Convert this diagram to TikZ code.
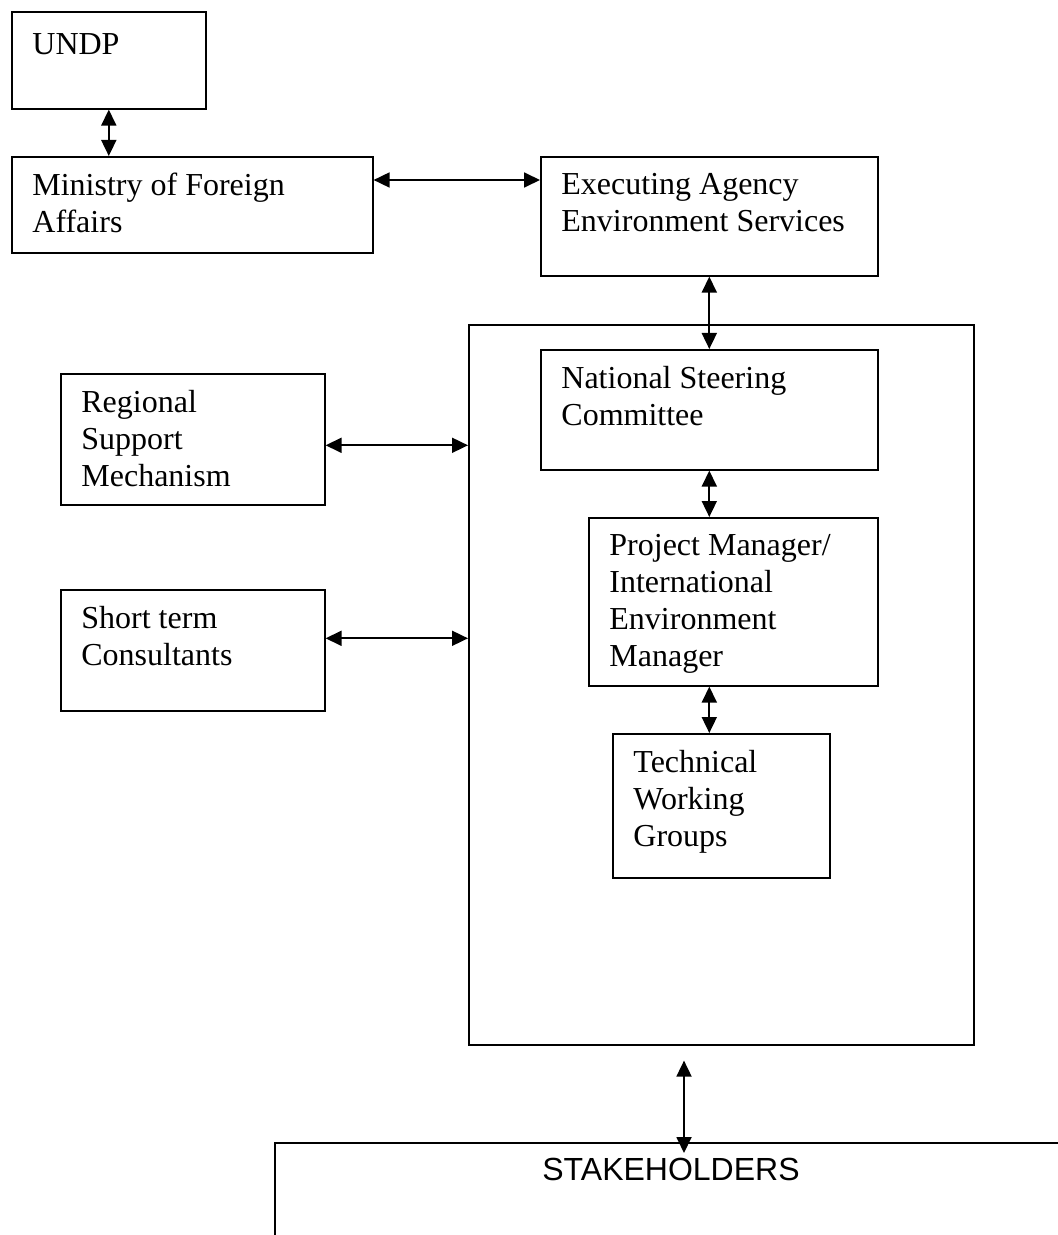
\documentclass[tikz,border=0pt]{standalone}
\usepackage{fontspec}
\setmainfont{Liberation Serif}
\setsansfont{Liberation Sans}
\usetikzlibrary{arrows.meta}

\begin{document}
\begin{tikzpicture}[x=0.5pt,y=-0.5pt,
        box/.style={draw=black,line width=0.8pt,anchor=north west,inner sep=0pt},
        txt/.style={anchor=north west,align=left,inner sep=0pt,font=\fontsize{16}{18.5}\selectfont,execute at begin node=\strut},
        link/.style={{Triangle[length=8pt,width=7.5pt]}-{Triangle[length=8pt,width=7.5pt]},line width=0.9pt}]
        \useasboundingbox (0,0) rectangle (1058,1235);
        % boxes
        \node[box,minimum width=97pt,minimum height=48.5pt] (undp) at (11,11) {};
        \node[box,minimum width=180.5pt,minimum height=48pt] (mfa) at (11,156) {};
        \node[box,minimum width=168.5pt,minimum height=59.5pt] (ea) at (540,156) {};
        \node[box,minimum width=252.5pt,minimum height=360pt] (outer) at (468,324) {};
        \node[box,minimum width=168.5pt,minimum height=60pt] (nsc) at (540,349) {};
        \node[box,minimum width=144.5pt,minimum height=84pt] (pm) at (588,517) {};
        \node[box,minimum width=108.5pt,minimum height=72pt] (twg) at (612,733) {};
        \node[box,minimum width=132pt,minimum height=65.5pt] (rsm) at (60,373) {};
        \node[box,minimum width=132pt,minimum height=60.5pt] (stc) at (60,589) {};
        % texts
        \node[txt] (undptxt) at ([shift={(21,17)}]undp.north west) {UNDP};
        \node[txt] (mfatxt) at ([shift={(21,17)}]mfa.north west) {Ministry of Foreign\\Affairs};
        \node[txt] (eatxt) at ([shift={(21,17)}]ea.north west) {Executing Agency\\Environment Services};
        \node[txt] (nsctxt) at ([shift={(21,17)}]nsc.north west) {National Steering\\Committee};
        \node[txt] (pmtxt) at ([shift={(21,17)}]pm.north west) {Project Manager/\\International\\Environment\\Manager};
        \node[txt] (twgtxt) at ([shift={(21,17)}]twg.north west) {Technical\\Working\\Groups};
        \node[txt] (rsmtxt) at ([shift={(21,17)}]rsm.north west) {Regional\\Support\\Mechanism};
        \node[txt] (stctxt) at ([shift={(21,17)}]stc.north west) {Short term\\Consultants};
        % stakeholders, cut off by the page
        \coordinate (shtop) at (684,1143);
        \draw[line width=1.2pt] (1058,1143) -- (275,1143) -- (275,1235);
        \node[anchor=base,inner sep=0pt,font=\sffamily\fontsize{16}{19}\selectfont] (stake) at (671,1180) {STAKEHOLDERS};
        % links
        \draw[link] (undp.south) -- (undp.south |- mfa.north);
        \draw[link] ([yshift=-12pt]mfa.north east) -- ([yshift=-12pt]ea.north west);
        \draw[link] (ea.south) -- (nsc.north);
        \draw[link] (nsc.south) -- (nsc.south |- pm.north);
        \draw[link] (nsc.south |- pm.south) -- (nsc.south |- twg.north);
        \draw[link] ([yshift=-3pt]rsm.east) -- ([yshift=-3pt]rsm.east -| outer.west);
        \draw[link] ([yshift=6pt]stc.east) -- ([yshift=6pt]stc.east -| outer.west);
        \draw[link] ([yshift=-7.5pt]outer.south -| shtop) -- ([yshift=-5pt]shtop);
    \end{tikzpicture}
\end{document}
